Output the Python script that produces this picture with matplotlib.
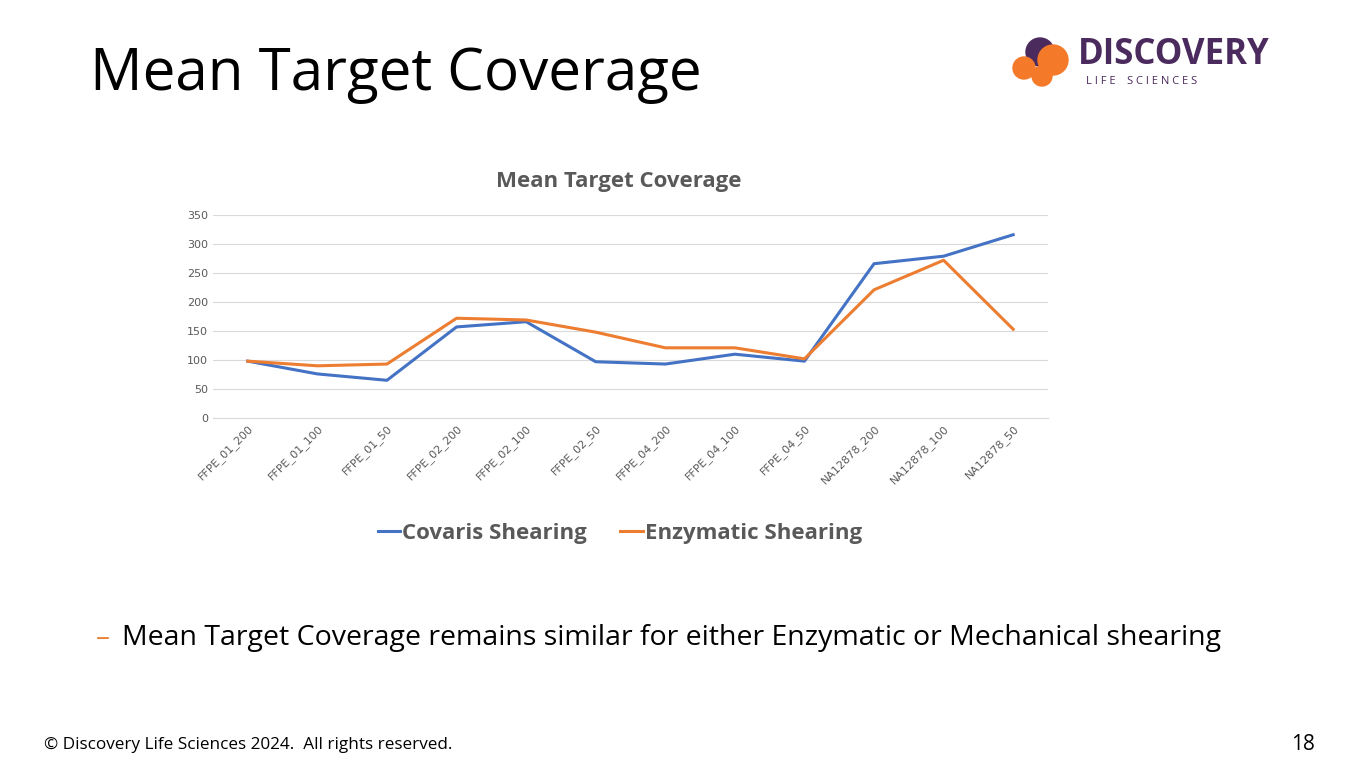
import matplotlib
matplotlib.use("Agg")
import matplotlib.pyplot as plt
from matplotlib.patches import Circle

categories = ["FFPE_01_200","FFPE_01_100","FFPE_01_50","FFPE_02_200","FFPE_02_100","FFPE_02_50",
              "FFPE_04_200","FFPE_04_100","FFPE_04_50","NA12878_200","NA12878_100","NA12878_50"]
covaris = [98, 76, 65, 157, 166, 97, 93, 110, 98, 266, 279, 316]
enzymatic = [98, 90, 93, 172, 169, 148, 121, 121, 102, 221, 272, 153]
yticks = [0, 50, 100, 150, 200, 250, 300, 350]

W, H = 1356, 763
fig = plt.figure(figsize=(W/100, H/100), dpi=100)
fig.patch.set_facecolor("white")

fig.text(90/W, 1-75/H, "Mean Target Coverage", fontsize=42, family="Open Sans", va="center", color="black")
fig.text(619/W, 1-181/H, "Mean Target Coverage", fontsize=16, weight="bold", color="#595959", ha="center", va="center", family="Open Sans")

ax = fig.add_axes([213/W, 1-418/H, (1048-213)/W, (418-215)/H])
x = range(len(categories))
ax.plot(x, covaris, color="#4472C4", lw=2.2, label="Covaris Shearing")
ax.plot(x, enzymatic, color="#ED7D31", lw=2.2, label="Enzymatic Shearing")
ax.set_xlim(-0.5, len(categories)-0.5)
ax.set_ylim(0, 350)
ax.set_yticks(yticks)
ax.set_xticks(list(x))
ax.set_xticklabels(categories, rotation=45, ha="right", rotation_mode="anchor", fontsize=8, color="#595959")
ax.tick_params(axis="y", labelsize=8, colors="#595959", length=0)
ax.tick_params(axis="x", length=0)
ax.grid(axis="y", color="#D9D9D9", lw=0.8)
ax.set_axisbelow(True)
for s in ["top", "right", "left"]:
    ax.spines[s].set_visible(False)
ax.spines["bottom"].set_color("#D9D9D9")

leg = fig.legend(loc="center", bbox_to_anchor=(620/W, 1-533/H), ncol=2, frameon=False,
                 prop={"size": 16, "weight": "bold", "family": "Open Sans"}, handlelength=1.0,
                 handletextpad=0.1, columnspacing=1.5)
for t in leg.get_texts():
    t.set_color("#595959")

fig.text(96/W, 1-638/H, "–", fontsize=20, color="#ED7D31", va="center", family="Open Sans")
fig.text(122/W, 1-638/H, "Mean Target Coverage remains similar for either Enzymatic or Mechanical shearing",
         fontsize=20.5, va="center", family="Open Sans")
fig.text(44/W, 1-745/H, "© Discovery Life Sciences 2024.  All rights reserved.", fontsize=12.3, va="center", family="Open Sans")
fig.text(1315/W, 1-745/H, "18", fontsize=15, ha="right", va="center", family="Open Sans")

# logo
lax = fig.add_axes([0, 0, 1, 1], facecolor="none")
lax.set_xlim(0, W); lax.set_ylim(H, 0); lax.axis("off")
lax.add_patch(Circle((1040, 52), 14, color="#4B2A5E"))
lax.add_patch(Circle((1024, 68), 11, color="#F47A2A"))
lax.add_patch(Circle((1053, 60), 15, color="#F47A2A"))
lax.add_patch(Circle((1042, 76), 10, color="#F47A2A"))
lax.text(1078, 55, "DISCOVERY", fontsize=25, weight="bold", color="#4B2A5E", va="center", family="Open Sans")
lax.text(1086, 82, "L I F E    S C I E N C E S", fontsize=8, color="#4B2A5E", va="center", family="Open Sans")

fig.savefig("out.png", dpi=100)
